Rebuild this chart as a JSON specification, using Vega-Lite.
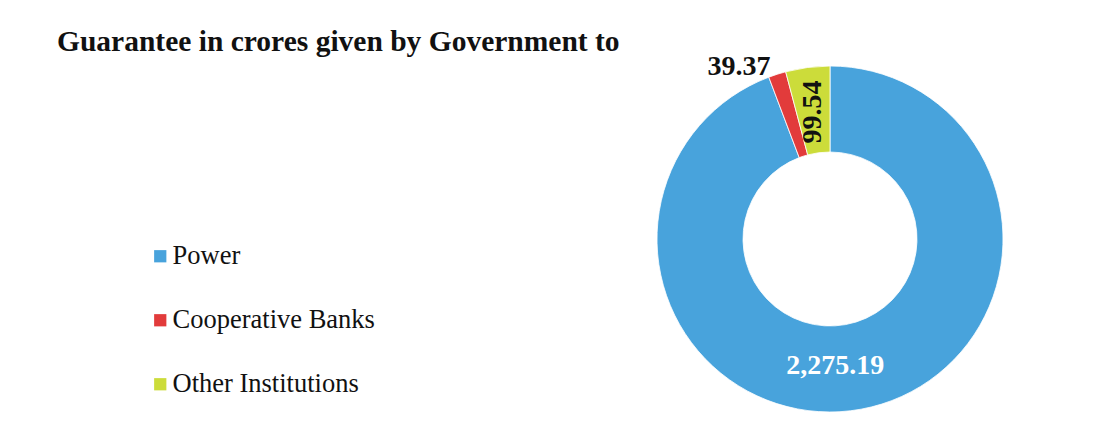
{
  "$schema": "https://vega.github.io/schema/vega-lite/v6.json",
  "width": 346,
  "height": 346,
  "autosize": {"type": "none"},
  "padding": {"left": 657, "top": 66, "right": 101, "bottom": 29},
  "background": "white",
  "config": {"view": {"stroke": null}},
  "title": {
    "text": "Guarantee in crores given by Government to",
    "anchor": "start",
    "frame": "group",
    "dx": -600,
    "dy": 48,
    "offset": 13,
    "baseline": "alphabetic",
    "font": "Liberation Serif",
    "fontSize": 29.5,
    "fontWeight": "bold",
    "color": "#111111"
  },
  "data": {
    "values": [
      {"category": "Power", "value": 2275.19, "idx": 1},
      {"category": "Cooperative Banks", "value": 39.37, "idx": 2},
      {"category": "Other Institutions", "value": 99.54, "idx": 3}
    ]
  },
  "encoding": {
    "theta": {"field": "value", "type": "quantitative", "stack": true},
    "order": {"field": "idx", "type": "quantitative"}
  },
  "layer": [
    {
      "mark": {"type": "arc", "outerRadius": 173, "innerRadius": 87, "stroke": "#ffffff", "strokeWidth": 0.8},
      "encoding": {
        "color": {
          "field": "category",
          "type": "nominal",
          "scale": {
            "domain": ["Power", "Cooperative Banks", "Other Institutions"],
            "range": ["#48A3DC", "#E23B3B", "#CCDC3A"]
          },
          "legend": {
            "title": null,
            "orient": "none",
            "legendX": -510,
            "legendY": 177,
            "symbolType": "square",
            "symbolSize": 150,
            "symbolStrokeWidth": 0,
            "labelFont": "Liberation Serif",
            "labelFontSize": 26.5,
            "labelColor": "#111111",
            "labelOffset": -1,
            "rowPadding": 37,
            "labelLimit": 400,
            "encode": {
              "symbols": {
                "update": {
                  "fill": {"signal": "datum.value === 'Power' ? '#2F7DC2' : datum.value === 'Cooperative Banks' ? '#C2403C' : '#9AB24A'"},
                  "opacity": {"value": 1}
                }
              }
            }
          }
        }
      }
    },
    {
      "mark": {"type": "text", "radius": 129, "dx": -18, "font": "Liberation Serif", "fontSize": 28, "fontWeight": "bold", "color": "#ffffff"},
      "encoding": {
        "text": {"condition": {"test": "datum.category === 'Power'", "field": "value", "format": ",.2f"}, "value": ""}
      }
    },
    {
      "mark": {"type": "text", "radius": 195, "dy": 14, "align": "right", "baseline": "middle", "font": "Liberation Serif", "fontSize": 28, "fontWeight": "bold", "color": "#111111"},
      "encoding": {
        "text": {"condition": {"test": "datum.category === 'Cooperative Banks'", "field": "value", "format": ",.2f"}, "value": ""}
      }
    },
    {
      "mark": {"type": "text", "radius": 128, "angle": 270, "align": "center", "baseline": "middle", "font": "Liberation Serif", "fontSize": 28, "fontWeight": "bold", "color": "#111111"},
      "encoding": {
        "text": {"condition": {"test": "datum.category === 'Other Institutions'", "field": "value", "format": ",.2f"}, "value": ""}
      }
    }
  ]
}
